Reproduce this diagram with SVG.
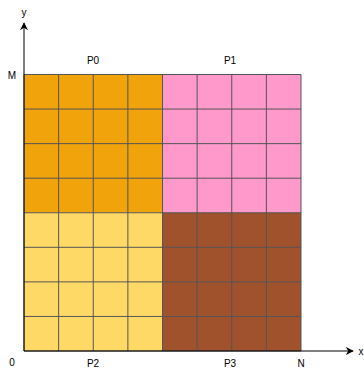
<svg xmlns="http://www.w3.org/2000/svg" width="364" height="368" viewBox="0 0 364 368">
<defs>
<style>
.t{font-family:"Liberation Sans",Arial,sans-serif;font-size:10px;fill:#000;text-anchor:middle}
.g{stroke:#555;stroke-width:1;fill:none}
.ax{stroke:#000;stroke-width:1;fill:none}
</style>
<marker id="ah" viewBox="0 0 10 10" refX="9" refY="5" markerWidth="8" markerHeight="8" markerUnits="userSpaceOnUse" orient="auto">
<path d="M0,0 L10,5 L0,10 L3,5 Z" fill="#000"/>
</marker>
</defs>
<g id="P0"><rect x="24" y="74.5" width="138.5" height="138.25" fill="#F0A30A"/></g>
<g id="P1"><rect x="162.5" y="74.5" width="138.5" height="138.25" fill="#FF99CC"/></g>
<g id="P2"><rect x="24" y="212.75" width="138.5" height="138.25" fill="#FFD966"/></g>
<g id="P3"><rect x="162.5" y="212.75" width="138.5" height="138.25" fill="#A0522D"/></g>
<g id="gridlines">
<path class="g" d="M24,74.5 H301 M24,109.06 H301 M24,143.63 H301 M24,178.19 H301 M24,212.75 H301 M24,247.31 H301 M24,281.88 H301 M24,316.44 H301 M24,351 H301 M24,74.5 V351 M58.63,74.5 V351 M93.25,74.5 V351 M127.88,74.5 V351 M162.5,74.5 V351 M197.13,74.5 V351 M231.75,74.5 V351 M266.38,74.5 V351 M301,74.5 V351"/>
</g>
<g id="connectors">
<path class="ax" d="M24,351 V23" marker-end="url(#ah)"/>
<path class="ax" d="M24,351 H353" marker-end="url(#ah)"/>
</g>
<g id="labels">
<text class="t" x="24" y="16">y</text>
<text class="t" x="361" y="355">x</text>
<text class="t" x="12" y="79">M</text>
<text class="t" x="12" y="366">0</text>
<text class="t" x="93" y="64">P0</text>
<text class="t" x="230" y="64">P1</text>
<text class="t" x="93" y="366.5">P2</text>
<text class="t" x="230" y="366.5">P3</text>
<text class="t" x="301" y="366.5">N</text>
</g>
</svg>
